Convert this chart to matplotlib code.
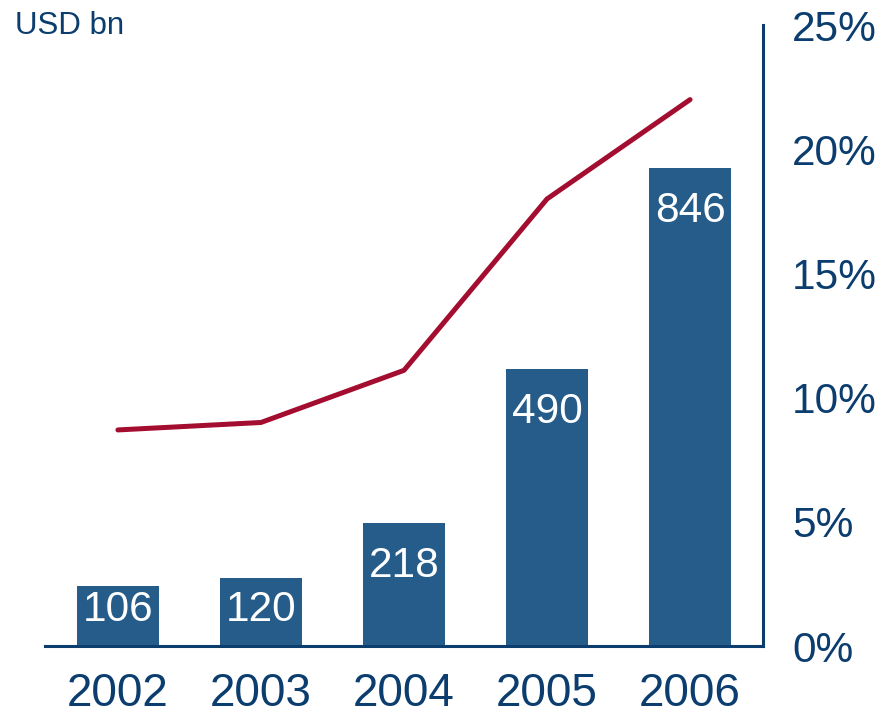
import matplotlib
matplotlib.use("Agg")
import matplotlib.pyplot as plt
from matplotlib.ticker import FuncFormatter

plt.rcParams['font.family'] = ['Liberation Sans', 'DejaVu Sans']

years = ["2002", "2003", "2004", "2005", "2006"]
volumes = [106, 120, 218, 490, 846]          # USD bn, bars
share_pct = [8.7, 9.0, 11.1, 18.0, 22.0]     # %, line on right axis
pct_ticks = [0, 5, 10, 15, 20, 25]

navy = "#0B3D6E"
bar_col = "#265C8A"
line_col = "#A30D2F"

fig = plt.figure(figsize=(8.92, 7.17), dpi=100)
ax = fig.add_axes([0.0504, 0.099, 0.8050, 0.866])
x = list(range(len(years)))

ax.bar(x, volumes, width=0.57, color=bar_col, zorder=2)
ax.set_xlim(-0.51, 4.51)
ax.set_ylim(0, 1100)

# value labels inside the bars, kept clear of the baseline for short bars
for xi, v in zip(x, volumes):
    ax.text(xi, max(v - 76, 64), f"{v}", ha="center", va="center",
            color="white", fontsize=30.5)

ax.set_xticks(x)
ax.set_xticklabels(years, fontsize=33, color=navy)
ax.tick_params(axis="x", length=0, pad=19)
ax.set_yticks([])
for s in ["left", "top", "right"]:
    ax.spines[s].set_visible(False)
ax.spines["bottom"].set_color(navy)
ax.spines["bottom"].set_linewidth(2.2)

ax2 = ax.twinx()
ax2.plot(x, share_pct, color=line_col, linewidth=3.6, solid_capstyle="round", zorder=3)
ax2.set_ylim(0, 25)
ax2.set_yticks(pct_ticks)
ax2.yaxis.set_major_formatter(FuncFormatter(lambda v, p: f"{v:.0f}%"))
ax2.tick_params(axis="y", length=0, pad=21, labelsize=30.5, labelcolor=navy)
for s in ["left", "top", "bottom"]:
    ax2.spines[s].set_visible(False)
ax2.spines["right"].set_color(navy)
ax2.spines["right"].set_linewidth(2.2)

fig.text(15 / 892, 1 - 26 / 717, "USD bn", ha="left", va="center",
         fontsize=22.5, color=navy)

fig.savefig("out.png", dpi=100)
